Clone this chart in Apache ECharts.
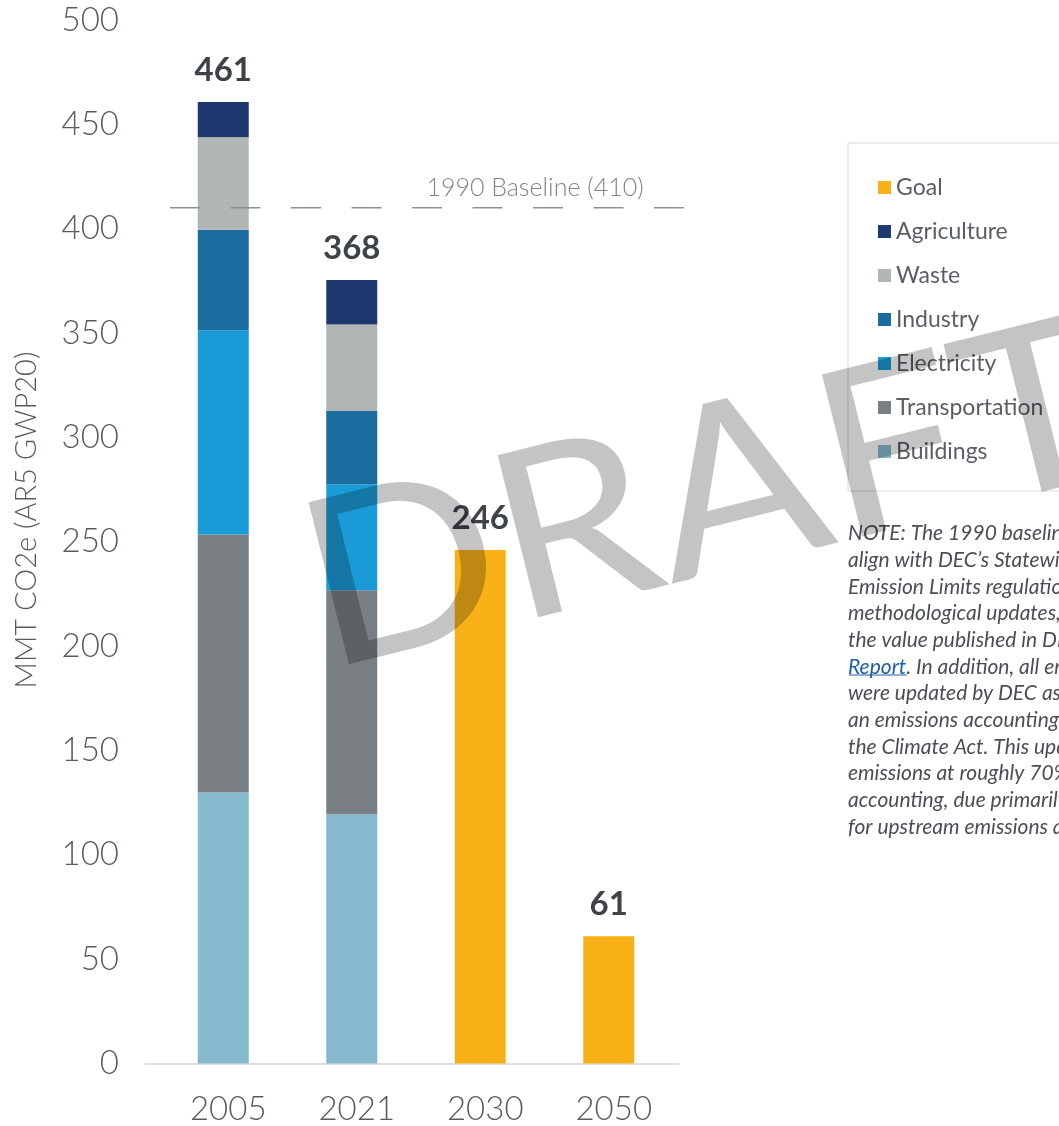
<!DOCTYPE html>
<html>
<head>
<meta charset="utf-8">
<script src="https://cdn.jsdelivr.net/npm/echarts@6/dist/echarts.min.js"></script>
<style>
html,body{margin:0;padding:0;background:#fff;}
#chart{width:1059px;height:1126px;}
</style>
</head>
<body>
<div id="chart"></div>
<script>
// ---- data ----
const categories = ['2005', '2021', '2030', '2050'];
const buildings      = [129.9, 119.4, null, null];
const transportation = [123.6, 107.4, null, null];
const electricity    = [97.9, 50.8, null, null];
const industry       = [48.1, 35.0, null, null];
const waste          = [44.3, 41.5, null, null];
const agriculture    = [16.9, 21.3, null, null];
const goal           = [null, null, 246, 61];
const totalLabels    = ['461', '368', '246', '61'];
const baselineValue  = 410;
const baselineText   = '1990 Baseline (410)';
const yMin = 0, yMax = 500, yStep = 50;
const yAxisTitle = 'MMT CO2e (AR5 GWP20)';
const legendOrder = ['Goal', 'Agriculture', 'Waste', 'Industry', 'Electricity', 'Transportation', 'Buildings'];
const noteLines = [
  'NOTE: The 1990 baseline was updated to',
  'align with DEC\u2019s Statewide GHG',
  'Emission Limits regulation and',
  'methodological updates, and differs from',
  'the value published in DEC\u2019s 2022 GHG',
  '{link|Report}. In addition, all emissions values',
  'were updated by DEC as required by',
  'an emissions accounting change in',
  'the Climate Act. This update places',
  'emissions at roughly 70% above',
  'accounting, due primarily to accounting',
  'for upstream emissions and'
];

const FONT = 'Lato, "Open Sans", sans-serif';
const axisColor = '#575c63';
const colors = {
  Goal: '#f8b218',
  Agriculture: '#1f386f',
  Waste: '#b2b5b6',
  Industry: '#1a6d9e',
  Electricity: '#1a9ad6',
  Transportation: '#7a7f83',
  Buildings: '#85b9cd'
};

const chart = echarts.init(document.getElementById('chart'), null, {renderer: 'canvas'});

function barSeries(name, data, withLabel) {
  const s = {
    name: name,
    type: 'bar',
    stack: 'total',
    barWidth: 51,
    xAxisIndex: 0,
    yAxisIndex: 0,
    data: data,
    itemStyle: {color: colors[name]},
    emphasis: {disabled: true}
  };
  if (withLabel) {
    s.label = {
      show: true,
      position: 'top',
      distance: 15,
      fontFamily: FONT,
      fontSize: 33,
      fontWeight: 'bold',
      color: '#3e434a',
      formatter: p => totalLabels[p.dataIndex]
    };
  }
  return s;
}

const option = {
  animation: false,
  backgroundColor: '#ffffff',
  grid: [
    {left: 159, right: 386, top: 20, bottom: 62.5},
    {left: 145, right: 380, top: 20, bottom: 62.5},
    {left: 170, right: 374, top: 20, bottom: 62.5}
  ],
  xAxis: [
    {
      type: 'category', gridIndex: 0, data: categories,
      axisLine: {show: false}, axisTick: {show: false},
      axisLabel: {fontFamily: FONT, fontSize: 33, fontWeight: 300, color: axisColor, margin: 29, padding: [0, 0, 0, 10]}
    },
    {
      type: 'value', gridIndex: 1, min: 0, max: 1,
      axisLine: {show: true, lineStyle: {color: '#dcdfe0', width: 2}},
      axisTick: {show: false}, axisLabel: {show: false}, splitLine: {show: false}
    },
    {type: 'value', gridIndex: 2, min: 0, max: 1, show: false}
  ],
  yAxis: [
    {
      type: 'value', gridIndex: 0, min: yMin, max: yMax, interval: yStep,
      axisLine: {show: false}, axisTick: {show: false}, splitLine: {show: false},
      axisLabel: {fontFamily: FONT, fontSize: 33, fontWeight: 300, color: axisColor, margin: 40}
    },
    {type: 'value', gridIndex: 1, min: yMin, max: yMax, show: false},
    {type: 'value', gridIndex: 2, min: yMin, max: yMax, show: false}
  ],
  legend: {
    data: legendOrder,
    orient: 'vertical',
    left: 848,
    top: 143,
    padding: [33, 300, 28, 30],
    borderColor: '#d9d9d9',
    borderWidth: 1,
    itemWidth: 13,
    itemHeight: 13,
    itemGap: 21,
    icon: 'rect',
    selectedMode: false,
    textStyle: {fontFamily: FONT, fontSize: 23, lineHeight: 23, color: '#595e66'}
  },
  series: [
    barSeries('Buildings', buildings),
    barSeries('Transportation', transportation),
    barSeries('Electricity', electricity),
    barSeries('Industry', industry),
    barSeries('Waste', waste),
    barSeries('Agriculture', agriculture, true),
    barSeries('Goal', goal, true),
    {
      name: 'baseline',
      type: 'line',
      xAxisIndex: 2, yAxisIndex: 2,
      data: [[0, baselineValue], [1, baselineValue]],
      symbol: 'none',
      silent: true,
      z: 5,
      lineStyle: {color: '#8c9095', width: 1.5, type: [30, 30.5]}
    }
  ],
  graphic: [
    {
      type: 'text', x: 27, y: 520, rotation: Math.PI / 2,
      style: {text: yAxisTitle, fontFamily: FONT, fontSize: 29, fontWeight: 300, fill: axisColor, align: 'center', verticalAlign: 'middle'}
    },
    {
      type: 'text', x: 535, y: 188,
      style: {text: baselineText, fontFamily: FONT, fontSize: 25, fontWeight: 300, fill: '#80858a', align: 'center', verticalAlign: 'middle'}
    },
    {
      type: 'text', x: 848, y: 520,
      style: {
        text: noteLines.join('\n'),
        fontFamily: FONT, fontSize: 21, fontStyle: 'italic', lineHeight: 26.7,
        fill: '#4a4f57', align: 'left', verticalAlign: 'top',
        rich: {link: {fontFamily: FONT, fontSize: 21, fontStyle: 'italic', fill: '#1f5fa6', lineHeight: 26.7}}
      }
    },
    {
      type: 'line', shape: {x1: 849, y1: 675, x2: 907, y2: 675},
      style: {stroke: '#1f5fa6', lineWidth: 1}
    },
    {
      type: 'text', x: 308, y: 597, rotation: 0.244, scaleX: 1.1, z: 100,
      style: {text: 'DRAFT', fontFamily: FONT, fontSize: 233, fill: 'rgba(0,0,0,0.23)', align: 'left', verticalAlign: 'middle'}
    }
  ]
};
chart.setOption(option);
</script>
</body>
</html>
